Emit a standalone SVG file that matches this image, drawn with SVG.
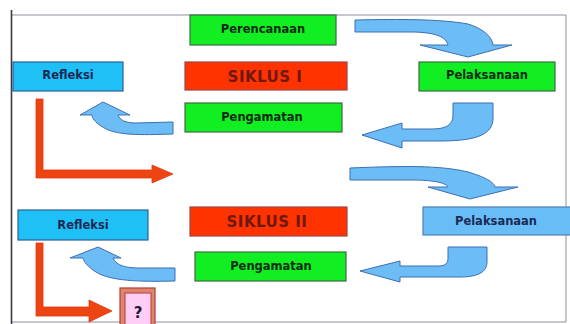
<svg xmlns="http://www.w3.org/2000/svg" width="570" height="324" viewBox="0 0 570 324">
<style>
.g{fill:#11ee22;stroke:#3f6a45;stroke-width:1.2}
.b{fill:#1fc0f5;stroke:#2d5f9a;stroke-width:1.2}
.r{fill:#ff3300;stroke:#a04545;stroke-width:1.2}
.lb{fill:#68bdf7;stroke:#4f7fb5;stroke-width:1.2}
.t{font-family:"DejaVu Sans",Verdana,sans-serif;font-weight:bold;font-size:11.5px;text-anchor:middle}
.tg{fill:#0d2a14}
.tb{fill:#1a2a55}
.ts{font-size:15px;fill:#6e1810;letter-spacing:0.5px}
.arr{fill:#6cbcf5;stroke:#3d6fb3;stroke-width:1}
.or{fill:#ee4411;stroke:#dd3a10;stroke-width:0.8}
.frame{fill:none;stroke:#8c8ea0;stroke-width:1}
</style>
<rect x="0" y="0" width="570" height="324" fill="#ffffff"/>
<line x1="12" y1="15" x2="566" y2="15" class="frame"/>
<line x1="566" y1="15" x2="566" y2="322" class="frame"/>
<line x1="12" y1="322" x2="566" y2="322" class="frame"/>
<line x1="11.5" y1="10" x2="11.5" y2="324" stroke="#3a3a44" stroke-width="1.6"/>

<g id="connectors">
<path class="arr" d="M355,20 C400,19 440,19 468,24 C484,29 492,37 493,45 L512,45 L468,57 L420,45 L448,45 C446,37 436,32 410,32 L355,32 Z"/>
<path class="arr" d="M453,103 L493,103 L493,118 C493,133 480,141 440,141 L402,141 L402,148 L362,135 L402,123 L402,129 L432,129 C446,129 453,125 453,115 Z"/>
<path class="arr" d="M173,122 L173,134 C140,135 115,136 101,126 C95,122 92,118 92,115 L80,115 L103,102 L130,115 L118,115 C120,120 125,123 136,123 Z"/>
<path class="or" d="M36,99 L43,99 L43,170 L152,170 L152,165 L173,174 L152,183 L152,178 L36,178 Z"/>
<path class="arr" d="M350,168 C400,166 440,165 468,172 C485,177 494,182 495,187 L518,187 L470,199 L428,187 L448,187 C446,183 435,180 410,180 L350,180 Z"/>
<path class="arr" d="M448,247 L487,247 L487,262 C487,272 478,277 460,277 L400,277 L400,282 L360,271 L400,261 L400,266 L438,266 C446,266 448,263 448,258 Z"/>
<path class="arr" d="M175,268 L175,281 C140,282 110,281 96,272 C88,267 84,262 83,258 L70,258 L98,247 L121,258 L113,258 C116,264 122,268 140,268 Z"/>
<path class="or" d="M36,243 L43,243 L43,307 L89,307 L89,300 L112,311 L89,322 L89,316 L36,316 Z"/>
</g>

<g id="perencanaan"><rect class="g" x="190" y="15" width="146" height="30"/><text class="t tg" x="263" y="33">Perencanaan</text></g>
<g id="refleksi1"><rect class="b" x="13" y="62" width="110" height="29"/><text class="t tb" x="68" y="79">Refleksi</text></g>
<g id="siklus1"><rect class="r" x="185" y="62" width="162" height="28"/><text class="t ts" x="265" y="82">SIKLUS  I</text></g>
<g id="pengamatan1"><rect class="g" x="185" y="103" width="157" height="29"/><text class="t tg" x="262" y="121">Pengamatan</text></g>
<g id="pelaksanaan1"><rect class="g" x="419" y="62" width="136" height="29"/><text class="t tg" x="487" y="79">Pelaksanaan</text></g>

<g id="refleksi2"><rect class="b" x="18" y="210" width="130" height="30"/><text class="t tb" x="83" y="229">Refleksi</text></g>
<g id="siklus2"><rect class="r" x="190" y="207" width="157" height="29"/><text class="t ts" x="267" y="227">SIKLUS  II</text></g>
<g id="pengamatan2"><rect class="g" x="195" y="252" width="151" height="29"/><text class="t tg" x="271" y="270">Pengamatan</text></g>
<g id="pelaksanaan2"><rect class="lb" x="423" y="207" width="150" height="28"/><text class="t tb" x="496" y="225">Pelaksanaan</text></g>

<g id="question"><rect x="120" y="288" width="35" height="40" fill="#e0846f" stroke="#b0402f" stroke-width="1.2"/><rect x="125" y="293" width="26" height="35" fill="#ffcdf5" stroke="#b0402f" stroke-width="1"/><text class="t" x="138" y="318" style="font-size:15px;fill:#1a1a3a">?</text></g>
</svg>
